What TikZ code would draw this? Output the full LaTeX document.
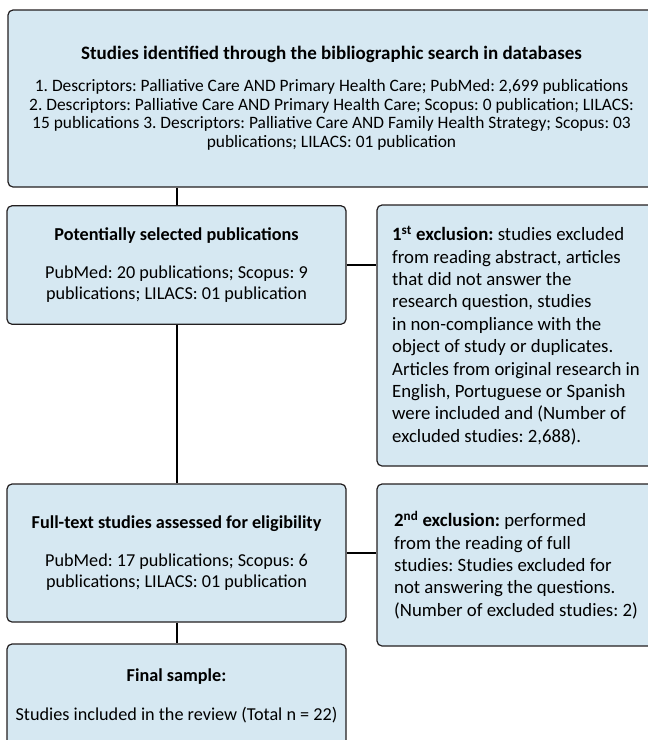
\documentclass[tikz,border=0pt]{standalone}
\usepackage{fontspec}
\setmainfont{Carlito}
\frenchspacing
\usetikzlibrary{positioning}
\definecolor{boxblue}{RGB}{214,232,242}
\definecolor{edgegray}{RGB}{35,31,32}
\newcommand{\hd}[1]{\textbf{#1}}
\tikzstyle{block} = [draw=edgegray, fill=boxblue, rectangle,
    rounded corners=5pt, line width=1.2pt, inner sep=0pt,
    align=center, font=\fontsize{18.2}{20.5}\selectfont]
\tikzstyle{note} = [block, align=left, font=\fontsize{18.8}{22.4}\selectfont]
\tikzstyle{link} = [line width=2pt, black]

\begin{document}
\begin{tikzpicture}[x=1pt, y=-1pt]
        \path [use as bounding box, clip] (0,0) rectangle (648,740);

        \node [block, minimum width=647pt, minimum height=177pt,
            font=\fontsize{17.4}{18.7}\selectfont] (search) at (331.5, 98.5)
            {{\fontsize{19}{18.7}\selectfont\hd{Studies identified through the bibliographic search in databases}}\\[13pt]
            1. Descriptors: Palliative Care AND Primary Health Care; PubMed: 2,699 publications\\
            2. Descriptors: Palliative Care AND Primary Health Care; Scopus: 0 publication; LILACS:\\
            15 publications 3. Descriptors: Palliative Care AND Family Health Strategy; Scopus: 03\\
            publications; LILACS: 01 publication};

        \node [block, minimum width=339pt, minimum height=118.5pt] (pot) at (176.5, 265)
            {\hd{Potentially selected publications}\\[18pt]
            PubMed: 20 publications; Scopus: 9\\
            publications; LILACS: 01 publication};
        \node [note, minimum width=278pt, minimum height=261pt] (excl1) at (516, 335.5)
            {\textbf{1\textsuperscript{st} exclusion:} studies excluded\\
            from reading abstract, articles\\
            that did not answer the\\
            research question, studies\\
            in non-compliance with the\\
            object of study or duplicates.\\
            Articles from original research in\\
            English, Portuguese or Spanish\\
            were included and (Number of\\
            excluded studies: 2,688).};

        \node [block, minimum width=339pt, minimum height=138pt] (full) at (176.5, 553)
            {\hd{Full-text studies assessed for eligibility}\\[18pt]
            PubMed: 17 publications; Scopus: 6\\
            publications; LILACS: 01 publication};
        \node [note, minimum width=278pt, minimum height=162pt] (excl2) at (516, 565)
            {\textbf{2\textsuperscript{nd} exclusion:} performed\\
            from the reading of full\\
            studies: Studies excluded for\\
            not answering the questions.\\
            (Number of excluded studies: 2)};

        \node [block, minimum width=339pt, minimum height=104pt] (final) at (176.5, 696)
            {\hd{Final sample:}\\[18pt]
            Studies included in the review (Total n = 22)};

        \draw [link] (search.south -| pot.north) -- (pot.north);
        \draw [link] (pot.east) -- (pot.east -| excl1.west);
        \draw [link] (pot.south) -- (full.north);
        \draw [link] (full.east) -- (full.east -| excl2.west);
        \draw [link] (full.south) -- (final.north);
\end{tikzpicture}
\end{document}
